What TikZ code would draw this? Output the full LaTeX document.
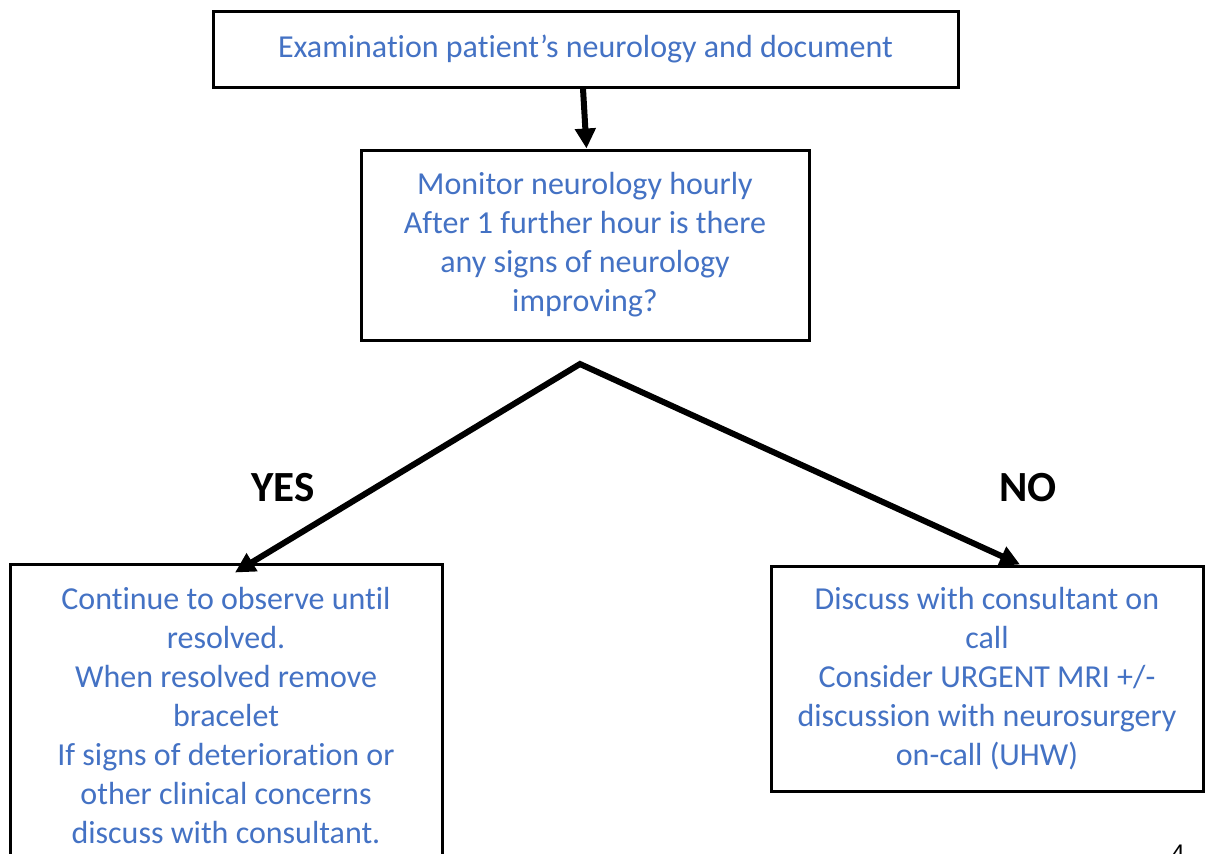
\documentclass[tikz,border=0pt]{standalone}
\usepackage{fontspec}
\setmainfont[Ligatures=NoCommon]{Carlito}
\newfontfamily\arialfont{Liberation Sans}
\usetikzlibrary{arrows.meta}
\definecolor{txtblue}{HTML}{4472C4}
\tikzset{
  box/.style={draw=black, line width=3pt, rectangle, align=center, text=txtblue, inner sep=0pt, font=\fontsize{32}{39}\selectfont},
  conn/.style={draw=black, line width=6pt, -{Triangle[length=20pt,width=20pt]}},
  fork/.style={draw=black, line width=6pt, line join=miter, {Triangle[length=20pt,width=20pt]}-{Triangle[length=20pt,width=20pt]}},
  lbl/.style={font=\fontsize{43}{48}\selectfont\bfseries, text=black, inner sep=0pt}
}
\begin{document}
\begin{tikzpicture}[x=1pt,y=-1pt]
\useasboundingbox (0,0) rectangle (1205,854);
\fill[white] (0,0) rectangle (1205,854);
\node[box, minimum width=745pt, minimum height=76pt] (top) at (585.5,49) {\raisebox{3pt}{Examination patient’s neurology and document}};
\node[box, minimum width=448pt, minimum height=190pt] (mid) at (585,245) {Monitor neurology hourly\\After 1 further hour is there\\any signs of neurology\\improving?};
\node[box, minimum width=432pt, minimum height=304pt] (yesbox) at (226,716) {Continue to observe until\\resolved.\\When resolved remove\\bracelet\\If signs of deterioration or\\other clinical concerns\\discuss with consultant.};
\node[box, minimum width=432pt, minimum height=225pt] (nobox) at (987,678.5) {Discuss with consultant on\\call\\Consider URGENT MRI +/-\\discussion with neurosurgery\\on-call (UHW)};
\coordinate (apex) at (580,364);
\coordinate (yestip) at ([xshift=9pt,yshift=-10pt]yesbox.north);
\coordinate (notip) at ([xshift=33pt]nobox.north);
\draw[conn] ([xshift=-2.5pt]top.south) -- ([xshift=1.5pt]mid.north);
\draw[fork] (yestip) -- (apex) -- (notip);
\node[lbl] (yes) at (283,488) {YES};
\node[lbl] (no) at (1028,488) {NO};
\node[anchor=north, inner sep=0pt, font=\arialfont\fontsize{24}{28}\selectfont] (pg) at (1178,845) {4};
\end{tikzpicture}
\end{document}
